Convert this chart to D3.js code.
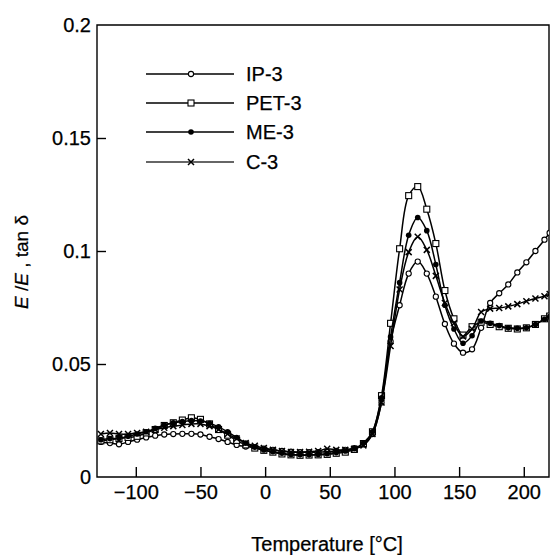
<!DOCTYPE html>
<html><head><meta charset="utf-8">
<script src="https://cdn.jsdelivr.net/npm/d3@7"></script>
<style>body{margin:0;background:#fff;} text{font-family:"Liberation Sans",Arial,Helvetica,sans-serif;fill:#000;stroke:#000;stroke-width:0.25px;}</style>
</head><body><svg id="c" width="550" height="555"></svg>
<script>
const temps = [-127,-120,-113,-106,-99,-92,-85,-78,-71,-64,-57,-50,-43,-36,-29,-22,-15,-8,-1,6,13,20,27,34,41,48,55,62,69,76,83,90,97,104,111,118,125,132,139,146,153,160,167,174,181,188,195,202,209,216,220];
const ip3 = [0.0155,0.0150,0.0145,0.0155,0.0165,0.0175,0.0183,0.0188,0.0190,0.0191,0.0191,0.0188,0.0178,0.0168,0.0155,0.0142,0.0135,0.0130,0.0125,0.0120,0.0115,0.0112,0.0110,0.0110,0.0110,0.0112,0.0115,0.0120,0.0128,0.0145,0.0190,0.0330,0.0600,0.0760,0.0900,0.0953,0.0900,0.0798,0.0677,0.0590,0.0550,0.0565,0.0660,0.0770,0.0813,0.0852,0.0905,0.0950,0.1000,0.1050,0.1080];
const pet3 = [0.0160,0.0165,0.0170,0.0175,0.0180,0.0195,0.0210,0.0228,0.0240,0.0252,0.0262,0.0255,0.0235,0.0210,0.0185,0.0162,0.0142,0.0128,0.0118,0.0110,0.0102,0.0098,0.0096,0.0097,0.0098,0.0100,0.0105,0.0110,0.0122,0.0148,0.0200,0.0360,0.0680,0.1010,0.1245,0.1285,0.1185,0.1033,0.0825,0.0700,0.0628,0.0665,0.0685,0.0675,0.0665,0.0658,0.0655,0.0660,0.0675,0.0700,0.0712];
const me3 = [0.0165,0.0170,0.0172,0.0180,0.0190,0.0200,0.0215,0.0230,0.0240,0.0245,0.0250,0.0248,0.0238,0.0222,0.0200,0.0175,0.0150,0.0132,0.0120,0.0112,0.0105,0.0100,0.0098,0.0098,0.0100,0.0103,0.0108,0.0115,0.0125,0.0150,0.0200,0.0350,0.0620,0.0860,0.1070,0.1148,0.1090,0.0940,0.0760,0.0655,0.0592,0.0625,0.0690,0.0680,0.0670,0.0660,0.0658,0.0660,0.0675,0.0698,0.0710];
const c3 = [0.0190,0.0195,0.0190,0.0190,0.0195,0.0200,0.0210,0.0218,0.0225,0.0230,0.0235,0.0235,0.0225,0.0210,0.0190,0.0170,0.0150,0.0138,0.0128,0.0120,0.0115,0.0110,0.0110,0.0112,0.0115,0.0125,0.0120,0.0120,0.0125,0.0140,0.0190,0.0330,0.0580,0.0830,0.0995,0.1063,0.1005,0.0890,0.0770,0.0680,0.0622,0.0655,0.0730,0.0745,0.0748,0.0755,0.0765,0.0778,0.0790,0.0800,0.0810];
const seriesNames = ["IP-3","PET-3","ME-3","C-3"];
const xTicks = [-100,-50,0,50,100,150,200];
const yTicks = [0,0.05,0.1,0.15,0.2];
const yTickLabels = ["0","0.05","0.1","0.15","0.2"];

const svg = d3.select("#c");
const L=97,R=549,T=25,B=477;
const x = d3.scaleLinear().domain([-130,219.5]).range([L,R]);
const y = d3.scaleLinear().domain([0,0.2]).range([B,T]);

svg.append("defs").append("clipPath").attr("id","clip").append("rect")
  .attr("x",L).attr("y",T-5).attr("width",R-L).attr("height",B-T+5);

// frame
svg.append("path").attr("d",`M${L},${T}H${R}V${B}H${L}Z`).attr("fill","none").attr("stroke","#000").attr("stroke-width",1.4);

// x axis
const xa = svg.append("g").attr("transform",`translate(0,${B})`)
  .call(d3.axisBottom(x).tickValues(xTicks).tickSize(-10).tickPadding(12).tickFormat(d3.format("d")));
xa.select(".domain").remove();
xa.selectAll("line").attr("stroke","#000").attr("stroke-width",1.4);
xa.selectAll("text").attr("font-size",20).attr("dy","0.71em").attr("y",8);

// y axis
const ya = svg.append("g").attr("transform",`translate(${L},0)`)
  .call(d3.axisLeft(y).tickValues(yTicks).tickSize(-9).tickPadding(7).tickFormat((d,i)=>yTickLabels[i]));
ya.select(".domain").remove();
ya.selectAll("line").attr("stroke","#000").attr("stroke-width",1.4);
ya.selectAll("text").attr("font-size",20).attr("x",-6);
ya.selectAll(".tick").filter(d=>d===0||d===0.2).select("line").remove();

// titles
svg.append("text").attr("x",(L+R)/2+4).attr("y",551).attr("text-anchor","middle").attr("font-size",20).text("Temperature [°C]");
const yt = svg.append("text").attr("transform","translate(28,262) rotate(-90)").attr("text-anchor","middle").attr("font-size",19);
yt.append("tspan").attr("font-style","italic").text("E");
yt.append("tspan").text(" /");
yt.append("tspan").attr("font-style","italic").text("E");
yt.append("tspan").text(" , tan δ");

const data = [ip3,pet3,me3,c3];
const line = d3.line().x(d=>x(d[0])).y(d=>y(d[1])).curve(d3.curveCatmullRom.alpha(0.5));
const g = svg.append("g").attr("clip-path","url(#clip)");

function marker(sel, k){
  if(k===0) sel.append("circle").attr("r",2.6).attr("fill","#fff").attr("stroke","#000").attr("stroke-width",1.1);
  else if(k===1) sel.append("rect").attr("x",-3).attr("y",-3).attr("width",6).attr("height",6).attr("fill","#fff").attr("stroke","#000").attr("stroke-width",1.1);
  else if(k===2) sel.append("circle").attr("r",2.8).attr("fill","#000");
  else sel.append("path").attr("d","M-3,-3L3,3M-3,3L3,-3").attr("stroke","#000").attr("stroke-width",1.5);
}

data.forEach((vals,k)=>{
  const pts = temps.map((t,i)=>[t,vals[i]]);
  g.append("path").datum(pts).attr("d",line).attr("fill","none").attr("stroke","#000").attr("stroke-width",1.5);
  pts.forEach(p=>{
    const m = g.append("g").attr("transform",`translate(${x(p[0])},${y(p[1])})`);
    marker(m,k);
  });
});

// legend
const legY=[74,103,132,162];
seriesNames.forEach((n,k)=>{
  svg.append("line").attr("x1",146).attr("x2",234).attr("y1",legY[k]).attr("y2",legY[k]).attr("stroke",k===3?"#333":"#000").attr("stroke-width",1.4);
  marker(svg.append("g").attr("transform",`translate(191,${legY[k]})`),k);
  svg.append("text").attr("x",246).attr("y",legY[k]).attr("dy","0.36em").attr("font-size",20).text(n);
});
</script></body></html>
